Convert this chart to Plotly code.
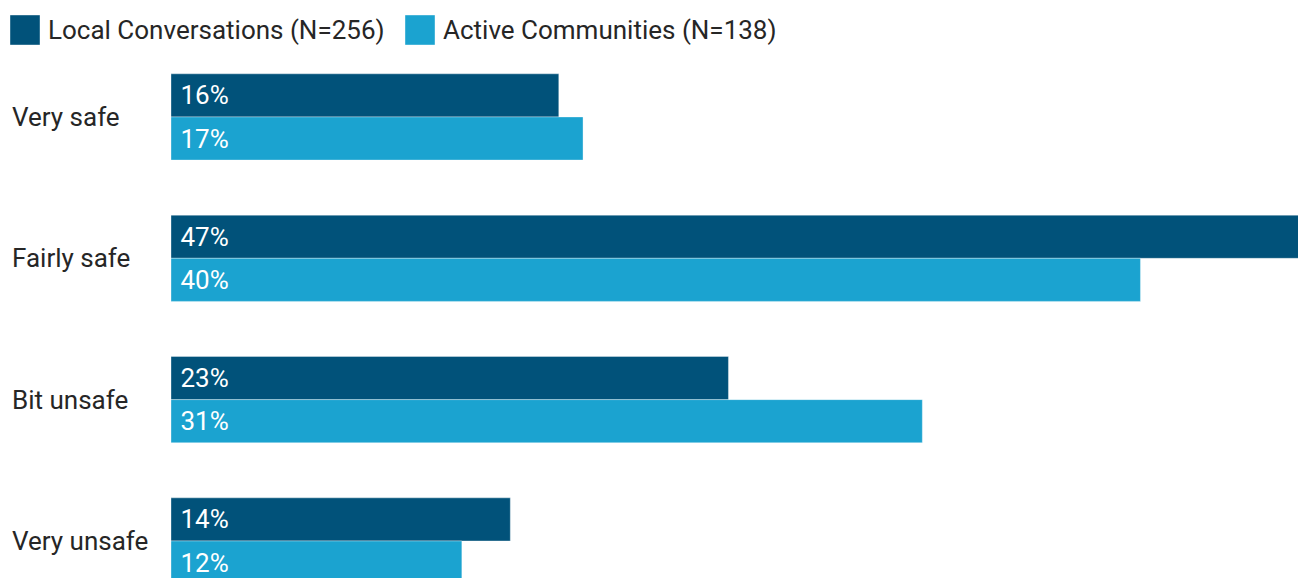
import plotly.graph_objects as go

categories = ["Very safe", "Fairly safe", "Bit unsafe", "Very unsafe"]
local_conv = [16, 47, 23, 14]
active_comm = [17, 40, 31, 12]
series_names = ["Local Conversations (N=256)", "Active Communities (N=138)"]
colors = ["#01527A", "#1BA3D0"]

FONT = "Roboto"
FS = 26
TEXT_COLOR = "#262626"
W, H = 1298, 578
PLOT_LEFT, PLOT_TOP = 171, 46
PW, PH = W - PLOT_LEFT, H - PLOT_TOP


def px_x(p):
    return (p - PLOT_LEFT) / PW


def px_y(p):
    return (H - p) / PH


fig = go.Figure()
for name, vals, col in zip(series_names, [local_conv, active_comm], colors):
    fig.add_trace(go.Bar(
        y=categories, x=vals, orientation="h", name=name,
        marker=dict(color=col, line=dict(color="rgba(255,255,255,0.35)", width=1)),
        text=["\u00a0" + f"{v}%" for v in vals],
        textposition="inside", insidetextanchor="start",
        textfont=dict(family=FONT, size=FS, color="white"),
        constraintext="none", cliponaxis=True,
        showlegend=False, hoverinfo="skip",
    ))

# category labels, left aligned at the page edge
for cat in categories:
    fig.add_annotation(xref="paper", yref="y", x=px_x(10), y=cat,
                       xanchor="left", yanchor="middle", showarrow=False,
                       text=cat, font=dict(family=FONT, size=FS, color=TEXT_COLOR))

# legend: large swatches with text
legend_items = [(10, 46), (405, 441)]
for (sx, tx), name, col in zip(legend_items, series_names, colors):
    fig.add_shape(type="rect", xref="paper", yref="paper",
                  x0=px_x(sx), x1=px_x(sx + 30), y0=px_y(45), y1=px_y(15),
                  fillcolor=col, line=dict(color="rgba(255,255,255,0.4)", width=1))
    fig.add_annotation(xref="paper", yref="paper", x=px_x(tx), y=px_y(30),
                       xanchor="left", yanchor="middle", showarrow=False,
                       text=name, font=dict(family=FONT, size=FS, color=TEXT_COLOR))

fig.update_layout(
    width=W, height=H,
    margin=dict(l=PLOT_LEFT, r=0, t=PLOT_TOP, b=0),
    paper_bgcolor="white", plot_bgcolor="white",
    barmode="group", bargap=0.39, bargroupgap=0,
    xaxis=dict(range=[0, 46.5], showgrid=False, zeroline=False, showticklabels=False, fixedrange=True),
    yaxis=dict(range=[3.262, -0.502], showgrid=False, zeroline=False, showticklabels=False, ticks=""),
    showlegend=False,
)
fig.write_html("out.html")
